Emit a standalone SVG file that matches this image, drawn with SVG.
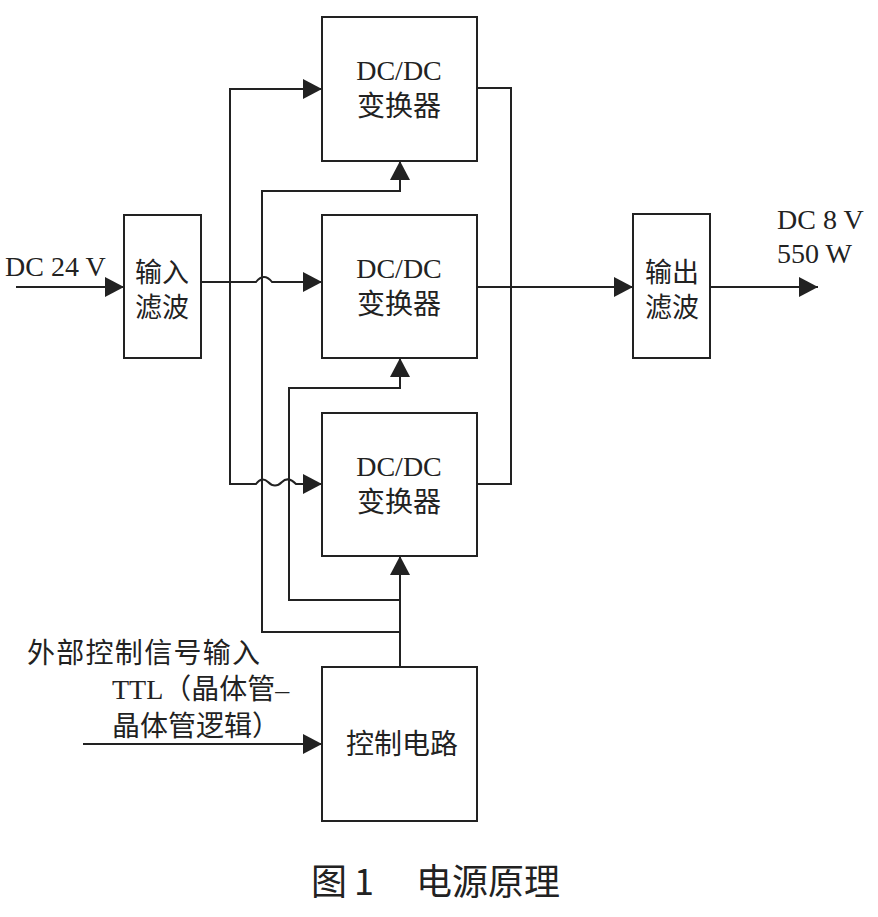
<svg xmlns="http://www.w3.org/2000/svg" width="878" height="917" viewBox="0 0 878 917">
<style>
.box{fill:#fff;stroke:#222;stroke-width:2}
.ln{fill:none;stroke:#222;stroke-width:2}
.t{font-family:"Liberation Serif","Noto Sans CJK SC",serif;font-size:28px;fill:#222}
.c{font-family:"Liberation Serif","Noto Sans CJK SC",serif;font-size:27px;fill:#222}
.cap{font-family:"Noto Sans CJK SC",sans-serif;font-size:36px;fill:#222}
</style>
<defs>
<marker id="ah" viewBox="0 0 19 20" markerWidth="19" markerHeight="20" refX="19" refY="10" orient="auto" markerUnits="userSpaceOnUse">
<path d="M0 0 L19 10 L0 20 z" fill="#222"/>
</marker>
</defs>
<rect width="878" height="917" fill="#fff"/>
<g id="connectors">
<path class="ln" d="M16 287 H124" marker-end="url(#ah)"/>
<path class="ln" d="M201 282 H256 Q264 272 272 282 H322" marker-end="url(#ah)"/>
<path class="ln" d="M230 282 V89 H322" marker-end="url(#ah)"/>
<path class="ln" d="M230 282 V484 H256 Q262 476 268 482 Q275 489 282 482 Q288 476 296 484 H322" marker-end="url(#ah)"/>
<path class="ln" d="M400 667 V556" marker-end="url(#ah)"/>
<path class="ln" d="M400 632 H262 V191 H400 V161" marker-end="url(#ah)"/>
<path class="ln" d="M400 600 H289 V388 H400 V358" marker-end="url(#ah)"/>
<path class="ln" d="M477 88 H511 V484 H477"/>
<path class="ln" d="M477 287 H633" marker-end="url(#ah)"/>
<path class="ln" d="M710 287 H818" marker-end="url(#ah)"/>
<path class="ln" d="M83 744 H322" marker-end="url(#ah)"/>
</g>
<g id="input-filter">
<rect class="box" x="124" y="215" width="77" height="143"/>
<text class="c" x="162" y="282" text-anchor="middle">输入</text>
<text class="c" x="162" y="317" text-anchor="middle">滤波</text>
</g>
<g id="dcdc1">
<rect class="box" x="322" y="17" width="155" height="144"/>
<text class="t" x="399" y="80" text-anchor="middle">DC/DC</text>
<text class="t" x="399" y="116" text-anchor="middle">变换器</text>
</g>
<g id="dcdc2">
<rect class="box" x="322" y="215" width="155" height="143"/>
<text class="t" x="399" y="278" text-anchor="middle">DC/DC</text>
<text class="t" x="399" y="314" text-anchor="middle">变换器</text>
</g>
<g id="dcdc3">
<rect class="box" x="322" y="413" width="155" height="143"/>
<text class="t" x="399" y="476" text-anchor="middle">DC/DC</text>
<text class="t" x="399" y="512" text-anchor="middle">变换器</text>
</g>
<g id="output-filter">
<rect class="box" x="633" y="214" width="77" height="144"/>
<text class="c" x="672" y="282" text-anchor="middle">输出</text>
<text class="c" x="672" y="317" text-anchor="middle">滤波</text>
</g>
<g id="control">
<rect class="box" x="322" y="667" width="155" height="154"/>
<text class="t" x="402" y="754" text-anchor="middle">控制电路</text>
</g>
<g id="labels">
<text class="t" x="5" y="276">DC 24 V</text>
<text class="t" x="777" y="229">DC 8 V</text>
<text class="t" x="777" y="263">550 W</text>
<text class="t" x="27" y="663" textLength="233">外部控制信号输入</text>
<text class="t" x="112" y="699">TTL（晶体管–</text>
<text class="t" x="112" y="736">晶体管逻辑）</text>
<text class="cap" y="895"><tspan x="311">图</tspan><tspan x="354">1</tspan><tspan x="416">电源原理</tspan></text>
</g>
</svg>
